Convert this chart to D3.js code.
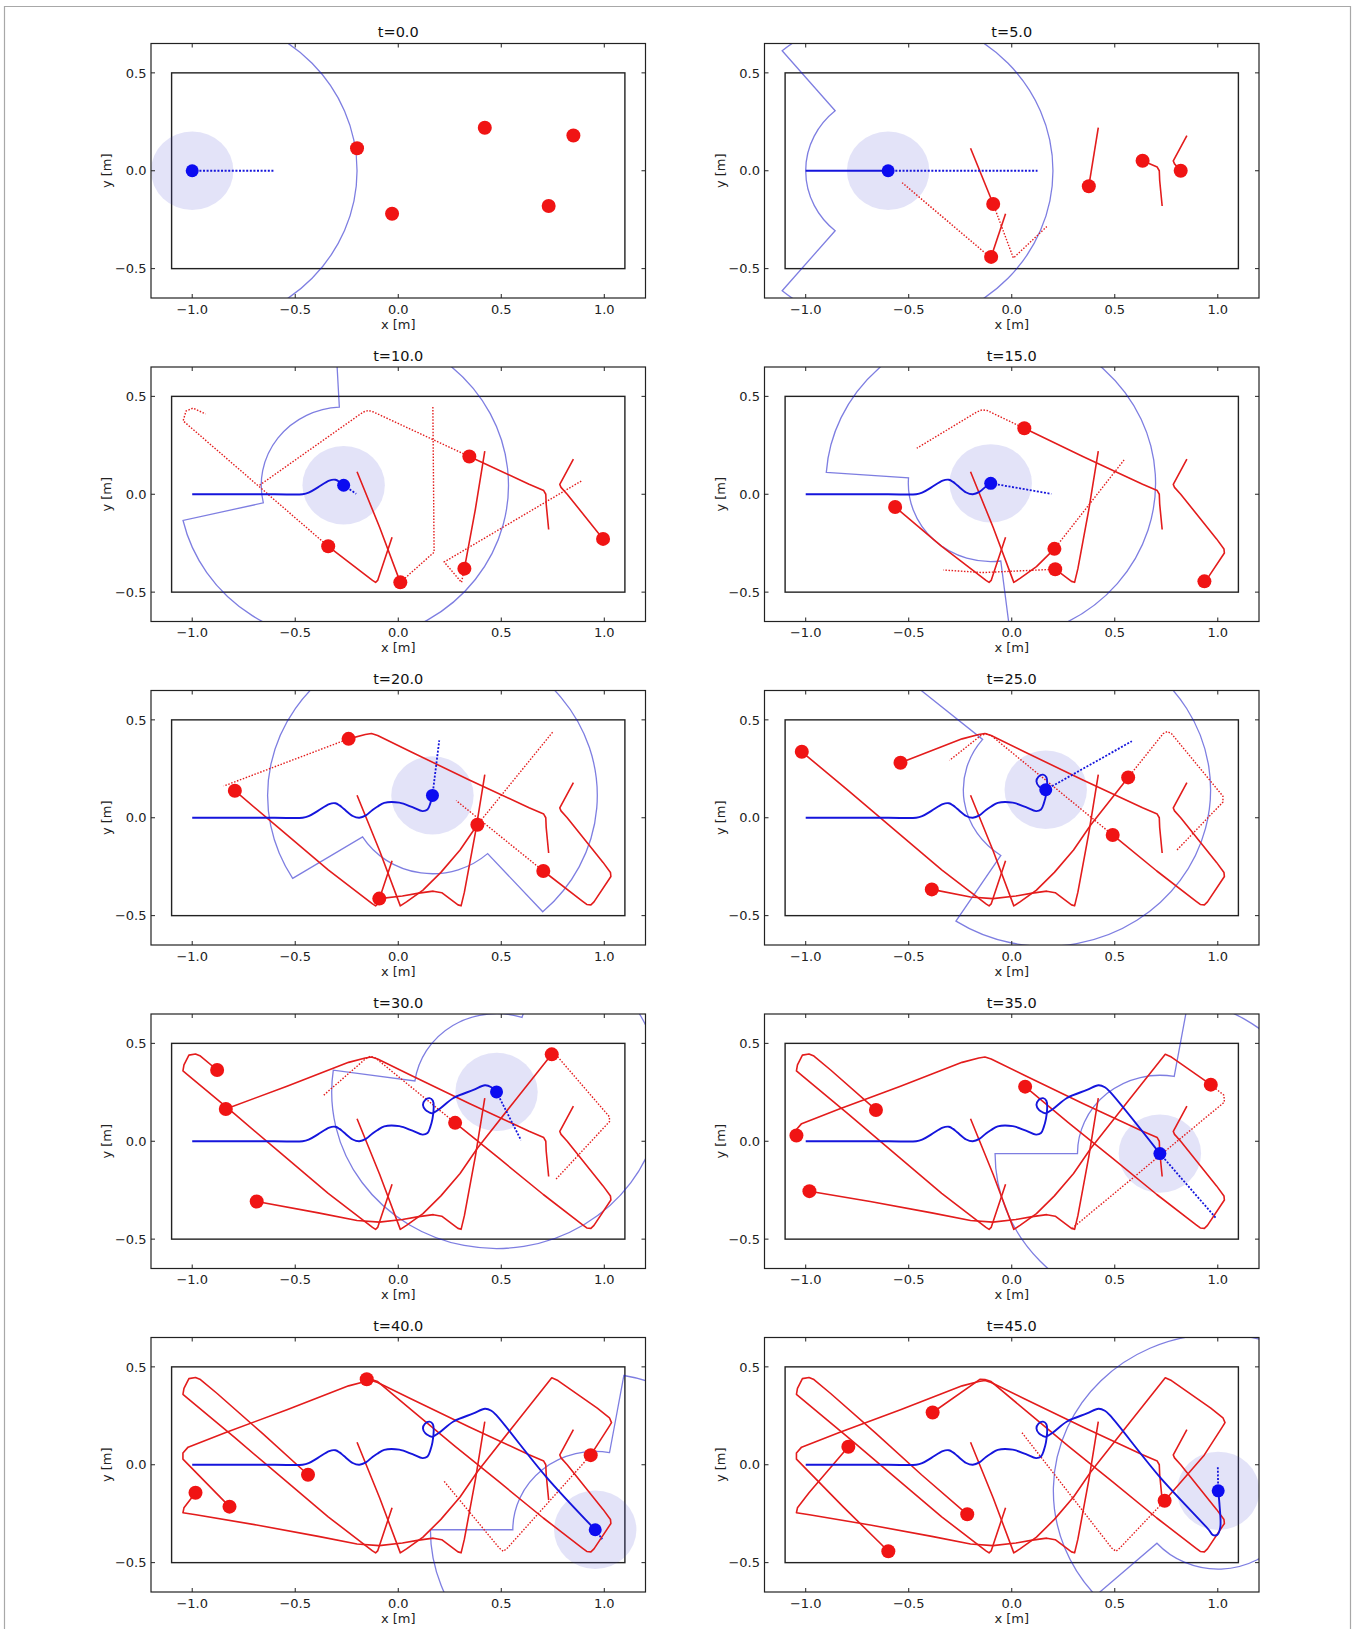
<!DOCTYPE html>
<html><head><meta charset="utf-8">
<script src="https://cdn.jsdelivr.net/npm/d3@7"></script>
<style>body{margin:0;background:#fff}</style>
</head><body>
<script>
// ---------------- data ----------------
const panelTimes = [0, 5, 10, 15, 20, 25, 30, 35, 40, 45];
const xTicks = [-1.0, -0.5, 0.0, 0.5, 1.0];
const yTicks = [-0.5, 0.0, 0.5];
const arenaX = [-1.1, 1.1];
const arenaY = [-0.5, 0.5];
const senseR = 0.8, occR = 0.4, bodyR = 0.2;

// path points [x, y, panelIndex at which the robot is at this point]
const bluePath = [
  [-1,0,0],[-0.6,0,1],[-0.464,0],[-0.435,0.008],[-0.39,0.035],[-0.335,0.07],[-0.305,0.074],[-0.285,0.063],
  [-0.265,0.046,2],[-0.221,0.009],[-0.189,0.0],[-0.157,0.012],[-0.125,0.04],[-0.102,0.056,3],
  [-0.068,0.076],[0.005,0.077],[0.069,0.054],[0.118,0.034],[0.142,0.042],[0.156,0.075],[0.166,0.114,4],
  [0.172,0.175],[0.168,0.207],[0.152,0.22],[0.13,0.21],[0.12,0.185],[0.132,0.16],[0.15,0.148],[0.165,0.143,5],
  [0.2,0.165],[0.268,0.221],[0.365,0.262],[0.421,0.286],[0.452,0.276],[0.477,0.252,6],
  [0.719,-0.063,7],[0.956,-0.332,8],[0.975,-0.358],[0.997,-0.358],[1.012,-0.32],[1.008,-0.2],[1.002,-0.133,9]
];
const redPathA = [
  [-0.2,0.115,0],[-0.09,-0.17,1],[0.01,-0.45,2],[0.04,-0.43],[0.12,-0.37],[0.207,-0.279,3],[0.30,-0.165],
  [0.384,-0.036,4],[0.565,0.206,5],[0.745,0.444,6],[0.775,0.43],[0.966,0.289,7],[1.025,0.24],[1.035,0.215],
  [1.02,0.19],[0.934,0.049,8],[0.742,-0.184,9]
];
const redPathB = [
  [-0.03,-0.22,0],[-0.10,-0.44,1],[-0.11,-0.45],[-0.125,-0.44],[-0.34,-0.266,2],[-0.566,-0.065,3],
  [-0.793,0.138,4],[-1.019,0.337,5],[-1.045,0.36],[-1.04,0.39],[-1.016,0.44],[-0.984,0.446],[-0.96,0.435],
  [-0.879,0.364,6],[-0.659,0.16,7],[-0.438,-0.051,8],[-0.216,-0.253,9]
];
const redPathC = [
  [0.42,0.22,0],[0.374,-0.079,1],[0.321,-0.38,2],[0.305,-0.45],[0.29,-0.445],[0.211,-0.383,3],[0.17,-0.375],
  [0.10,-0.385],[0.02,-0.40],[-0.092,-0.413,4],[-0.2,-0.405],[-0.388,-0.366,5],[-0.687,-0.308,6],
  [-0.982,-0.255,7],[-1.045,-0.245],[-1.04,-0.22],[-0.984,-0.143,8],[-0.793,0.092,9]
];
const redPathD = [
  [0.73,-0.18,0],[0.718,-0.05],[0.716,0.0],[0.706,0.019],[0.635,0.051,1],[0.345,0.193,2],[0.061,0.337,3],
  [-0.10,0.42],[-0.13,0.43],[-0.16,0.425],[-0.241,0.403,4],[-0.54,0.281,5],[-0.837,0.165,6],[-1.02,0.09],
  [-1.045,0.06],[-1.045,0.029,7],[-0.819,-0.214,8],[-0.599,-0.442,9]
];
const redPathE = [
  [0.85,0.18,0],[0.784,0.05],[0.79,0.035],[0.82,0.0,1],[0.994,-0.228,2],[1.03,-0.28],[1.032,-0.3],[0.95,-0.43],
  [0.935,-0.445,3],[0.915,-0.443],[0.895,-0.427],[0.704,-0.272,4],[0.49,-0.088,5],[0.276,0.094,6],
  [0.065,0.279,7],[-0.1,0.425],[-0.13,0.435],[-0.153,0.437,8],[-0.384,0.267,9]
];

// predicted (dotted) red paths, per panel
const redAhead = [
  [],
  [[[-0.09,-0.17],[0.008,-0.446],[0.17,-0.285]], [[-0.102,-0.444],[-0.532,-0.061]]],
  [[[-0.34,-0.266],[-1.044,0.375],[-1.03,0.425],[-0.996,0.44],[-0.935,0.41]],
   [[0.01,-0.45],[0.174,-0.296],[0.168,0.448]],
   [[0.345,0.193],[-0.12,0.42],[-0.145,0.428],[-0.17,0.42],[-0.676,0.044]],
   [[0.321,-0.38],[0.307,-0.45],[0.223,-0.346],[0.889,0.068]]],
  [[[0.061,0.337],[-0.12,0.428],[-0.144,0.431],[-0.17,0.42],[-0.461,0.235]],
   [[0.207,-0.279],[0.545,0.175]],
   [[0.211,-0.383],[-0.14,-0.4],[-0.332,-0.387]]],
  [[[-0.241,0.403],[-0.847,0.162]], [[0.384,-0.036],[0.753,0.442]], [[0.704,-0.272],[0.281,0.088]]],
  [[[0.49,-0.088],[-0.1,0.42],[-0.124,0.429],[-0.15,0.42],[-0.302,0.293]],
   [[0.565,0.206],[0.735,0.43],[0.755,0.44],[0.775,0.43],[1.025,0.11],[1.025,0.08],[0.797,-0.17]]],
  [[[0.276,0.094],[-0.11,0.425],[-0.136,0.434],[-0.16,0.42],[-0.362,0.235]],
   [[0.745,0.444],[0.775,0.43],[1.025,0.125],[1.025,0.1],[0.761,-0.199]]],
  [[[0.966,0.289],[1.03,0.235],[1.032,0.2],[0.296,-0.442]]],
  [[[0.934,0.049],[0.53,-0.425],[0.51,-0.442],[0.49,-0.425],[0.223,-0.085]]],
  [[[0.742,-0.184],[0.525,-0.425],[0.506,-0.442],[0.485,-0.425],[0.045,0.17]]]
];
// end of the blue robot's planned (dotted) path, per panel
const blueAhead = [[-0.6,0],[0.125,0],[-0.204,0.002],[0.192,0.002],[0.199,0.395],[0.583,0.391],
  [0.596,0.005],[0.99,-0.391],[0.99,-0.38],[1.0,-0.008]];
// occluded sector [from, to] in degrees where the sensed range drops to occR
const visInner = [[130,230],[130,230],[93,193],[176,277],[212,312],[140,237],[72,172],[80,180],[80,180],[222,322]];

// ---------------- drawing ----------------
const W = 1355, H = 1629;
const colLeft = [151, 764.5], pw = 494.5, ph = 254.5;
const rowTop0 = 43.5, rowStep = 323.5;
const red = "#e31c1c", redDot = "#f01414", blue = "#1515dc", blueDot = "#0c0cf0";
const axCol = "#222";
const fmt = v => d3.format(".1f")(v).replace("-", "\u2212");

const svg = d3.select("body").append("svg").attr("width", W).attr("height", H)
  .style("font-family", "'DejaVu Sans', sans-serif");
svg.append("path").attr("d", `M4.5,${H} V6.5 H1350.5 V${H}`).attr("fill", "none")
  .attr("stroke", "#a8a8a8").attr("stroke-width", 1.2);

const x = d3.scaleLinear().domain([-1.2, 1.2]).range([0, pw]);
const y = d3.scaleLinear().domain([-0.65, 0.65]).range([ph, 0]);
const kx = pw / 2.4, ky = ph / 1.3;
const line = d3.line().x(d => x(d[0])).y(d => y(d[1]));
const smooth = d3.line().x(d => x(d[0])).y(d => y(d[1])).curve(d3.curveCatmullRom.alpha(0.5));
const upTo = (path, k) => path.slice(0, path.findIndex(p => p[2] === k) + 1);
const redPaths = [redPathA, redPathB, redPathC, redPathD, redPathE];

panelTimes.forEach((t, i) => {
  const left = colLeft[i % 2], top = rowTop0 + Math.floor(i / 2) * rowStep;
  const g = svg.append("g").attr("transform", `translate(${left},${top})`);
  g.append("clipPath").attr("id", "clip" + i).append("rect").attr("width", pw).attr("height", ph);
  const c = g.append("g").attr("clip-path", `url(#clip${i})`);

  // arena walls
  c.append("rect").attr("x", x(arenaX[0])).attr("y", y(arenaY[1]))
    .attr("width", x(arenaX[1]) - x(arenaX[0])).attr("height", y(arenaY[0]) - y(arenaY[1]))
    .attr("fill", "none").attr("stroke", axCol).attr("stroke-width", 1.4);

  const bp = upTo(bluePath, i);
  const b = bp[bp.length - 1];

  // sensed region outline
  const [a0, a1] = visInner[i];
  const P = (a, r) => [x(b[0] + r * Math.cos(a * Math.PI / 180)), y(b[1] + r * Math.sin(a * Math.PI / 180))];
  const p1 = P(a0, senseR), p2 = P(a0, occR), p3 = P(a1, occR), p4 = P(a1, senseR);
  const large = (a1 - a0) > 180 ? 1 : 0;
  const d = `M${p1} L${p2} A${occR * kx},${occR * ky} 0 ${large} 0 ${p3} L${p4} ` +
            `A${senseR * kx},${senseR * ky} 0 ${1 - large} 0 ${p1} Z`;
  c.append("path").attr("d", d).attr("fill", "none")
    .attr("stroke", "rgba(20,20,200,0.55)").attr("stroke-width", 1.3);

  // robot body disc
  c.append("ellipse").attr("cx", x(b[0])).attr("cy", y(b[1]))
    .attr("rx", bodyR * kx).attr("ry", bodyR * ky).attr("fill", "rgba(70,70,210,0.15)");

  // red trails
  redPaths.forEach(rp => {
    const pts = upTo(rp, i);
    if (pts.length > 1)
      c.append("path").attr("d", line(pts)).attr("fill", "none").attr("stroke", red)
        .attr("stroke-width", 1.6).attr("stroke-linejoin", "round");
  });
  // red predicted paths
  redAhead[i].forEach(pl => {
    c.append("path").attr("d", line(pl)).attr("fill", "none").attr("stroke", red)
      .attr("stroke-width", 1.4).attr("stroke-dasharray", "1.5,1.6");
  });
  // blue trail
  if (bp.length > 1)
    c.append("path").attr("d", smooth(bp)).attr("fill", "none").attr("stroke", blue)
      .attr("stroke-width", 1.9);
  // blue plan
  c.append("path").attr("d", line([b, blueAhead[i]])).attr("fill", "none").attr("stroke", blue)
    .attr("stroke-width", 1.8).attr("stroke-dasharray", "2,1.6");

  // robots
  redPaths.forEach(rp => {
    const pts = upTo(rp, i), q = pts[pts.length - 1];
    c.append("circle").attr("cx", x(q[0])).attr("cy", y(q[1])).attr("r", 7).attr("fill", redDot);
  });
  c.append("circle").attr("cx", x(b[0])).attr("cy", y(b[1])).attr("r", 6.5).attr("fill", blueDot);

  // axes frame and ticks
  g.append("rect").attr("width", pw).attr("height", ph).attr("fill", "none")
    .attr("stroke", axCol).attr("stroke-width", 1.2);
  xTicks.forEach(v => {
    g.append("line").attr("x1", x(v)).attr("x2", x(v)).attr("y1", ph).attr("y2", ph - 4).attr("stroke", axCol);
    g.append("line").attr("x1", x(v)).attr("x2", x(v)).attr("y1", 0).attr("y2", 4).attr("stroke", axCol);
    g.append("text").attr("x", x(v)).attr("y", ph + 15.5).attr("text-anchor", "middle")
      .attr("font-size", 13).attr("fill", axCol).text(fmt(v));
  });
  yTicks.forEach(v => {
    g.append("line").attr("x1", 0).attr("x2", 4).attr("y1", y(v)).attr("y2", y(v)).attr("stroke", axCol);
    g.append("line").attr("x1", pw).attr("x2", pw - 4).attr("y1", y(v)).attr("y2", y(v)).attr("stroke", axCol);
    g.append("text").attr("x", -4.5).attr("y", y(v)).attr("dy", "0.36em").attr("text-anchor", "end")
      .attr("font-size", 13).attr("fill", axCol).text(fmt(v));
  });
  g.append("text").attr("x", pw / 2).attr("y", ph + 30.5).attr("text-anchor", "middle")
    .attr("font-size", 13).attr("fill", axCol).text("x [m]");
  g.append("text").attr("transform", `translate(-40,${ph / 2}) rotate(-90)`).attr("text-anchor", "middle")
    .attr("font-size", 13).attr("fill", axCol).text("y [m]");
  g.append("text").attr("x", pw / 2).attr("y", -6.5).attr("text-anchor", "middle")
    .attr("font-size", 14.5).attr("fill", "#111").text(`t=${t.toFixed(1)}`);
});
</script>
</body></html>
